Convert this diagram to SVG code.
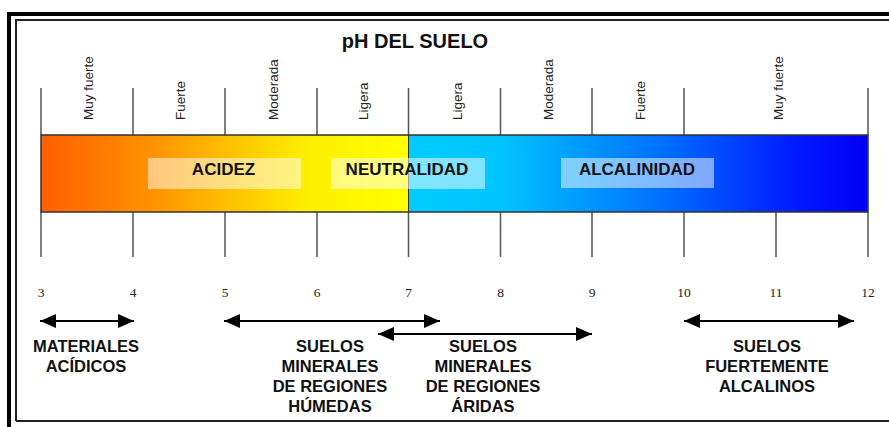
<svg xmlns="http://www.w3.org/2000/svg" width="889" height="427" viewBox="0 0 889 427">
<defs>
<linearGradient id="gAcid" x1="0" y1="0" x2="1" y2="0">
<stop offset="0" stop-color="#FF5F00"/>
<stop offset="0.3" stop-color="#FF9200"/>
<stop offset="0.72" stop-color="#FFEE00"/>
<stop offset="1" stop-color="#FFFF00"/>
</linearGradient>
<linearGradient id="gAlk" x1="0" y1="0" x2="1" y2="0">
<stop offset="0" stop-color="#00CCFF"/>
<stop offset="0.2" stop-color="#00C4FF"/>
<stop offset="0.55" stop-color="#0070FF"/>
<stop offset="0.85" stop-color="#0018FF"/>
<stop offset="1" stop-color="#0000F0"/>
</linearGradient>
<marker id="ah" viewBox="0 0 16 14" refX="16" refY="7" markerWidth="16" markerHeight="14" markerUnits="userSpaceOnUse" orient="auto-start-reverse">
<path d="M0,0 L16,7 L0,14 Z" fill="#000"/>
</marker>
<style>
.tick{stroke:#555;stroke-width:1.5;fill:none}
.deg{font-family:"Liberation Sans",Arial,sans-serif;font-size:13.5px;fill:#222}
.num{font-family:"Liberation Serif","Times New Roman",serif;font-size:13.5px;fill:#222;text-anchor:middle}
.box{fill:#fff;fill-opacity:0.5}
.zone{font-family:"Liberation Sans",Arial,sans-serif;font-size:17px;font-weight:bold;fill:#111;text-anchor:middle}
.lbl{font-family:"Liberation Sans",Arial,sans-serif;font-size:16.5px;font-weight:bold;fill:#111;text-anchor:middle}
.arr{stroke:#000;stroke-width:2;fill:none;marker-start:url(#ah);marker-end:url(#ah)}
</style>
</defs>
<rect width="889" height="427" fill="#fff"/>
<g id="frame">
<path d="M9,427 V14 H889" fill="none" stroke="#000" stroke-width="4"/>
<path d="M16,421 V20 H889 M16,421 H889" fill="none" stroke="#222" stroke-width="2"/>
</g>
<text x="415" y="48" font-family="'Liberation Sans',Arial,sans-serif" font-size="20" font-weight="bold" fill="#111" text-anchor="middle">pH DEL SUELO</text>
<g id="ticks">
<path class="tick" d="M41,88V135 M133,88V135 M225,88V135 M317,88V135 M408.5,88V135 M500.5,88V135 M592,88V135 M684,88V135 M868,88V135"/>
<path class="tick" d="M41,212V257 M133,212V257 M225,212V257 M317,212V257 M408.5,212V257 M500.5,212V257 M592,212V257 M684,212V257 M776,212V257 M868,212V257"/>
</g>
<g id="degrees">
<text class="deg" transform="translate(93,120) rotate(-90)">Muy fuerte</text>
<text class="deg" transform="translate(185,120) rotate(-90)">Fuerte</text>
<text class="deg" transform="translate(278,120) rotate(-90)">Moderada</text>
<text class="deg" transform="translate(368,120) rotate(-90)">Ligera</text>
<text class="deg" transform="translate(462,120) rotate(-90)">Ligera</text>
<text class="deg" transform="translate(553,120) rotate(-90)">Moderada</text>
<text class="deg" transform="translate(645,120) rotate(-90)">Fuerte</text>
<text class="deg" transform="translate(783,120) rotate(-90)">Muy fuerte</text>
</g>
<g id="bar">
<rect x="41" y="135" width="367.5" height="77" fill="url(#gAcid)"/>
<rect x="408.5" y="135" width="459.5" height="77" fill="url(#gAlk)"/>
<rect x="41" y="135" width="827" height="77" fill="none" stroke="#333" stroke-width="1.5"/>
<line x1="408.5" y1="135" x2="408.5" y2="212" stroke="#333" stroke-width="1"/>
</g>
<g id="acidez">
<rect class="box" x="148" y="158" width="153" height="31"/>
<text class="zone" x="223.5" y="174.5">ACIDEZ</text>
</g>
<g id="neutralidad">
<rect class="box" x="331" y="158" width="154" height="31"/>
<text class="zone" x="407" y="174.5">NEUTRALIDAD</text>
</g>
<g id="alcalinidad">
<rect class="box" x="561" y="158" width="153" height="30"/>
<text class="zone" x="637" y="174.5">ALCALINIDAD</text>
</g>
<g id="numbers">
<text class="num" x="41" y="297">3</text>
<text class="num" x="133" y="297">4</text>
<text class="num" x="225" y="297">5</text>
<text class="num" x="317" y="297">6</text>
<text class="num" x="408.5" y="297">7</text>
<text class="num" x="500.5" y="297">8</text>
<text class="num" x="592" y="297">9</text>
<text class="num" x="684" y="297">10</text>
<text class="num" x="776" y="297">11</text>
<text class="num" x="868" y="297">12</text>
</g>
<g id="connectors">
<line class="arr" x1="40" y1="321" x2="134" y2="321"/>
<line class="arr" x1="224" y1="321" x2="440" y2="321"/>
<line class="arr" x1="378" y1="334" x2="592" y2="334"/>
<line class="arr" x1="684" y1="321" x2="854" y2="321"/>
</g>
<g id="materiales">
<text class="lbl" x="86" y="352">MATERIALES</text>
<text class="lbl" x="86" y="372">ACÍDICOS</text>
</g>
<g id="humedas">
<text class="lbl" x="330" y="352">SUELOS</text>
<text class="lbl" x="330" y="372">MINERALES</text>
<text class="lbl" x="330" y="392">DE REGIONES</text>
<text class="lbl" x="330" y="412">HÚMEDAS</text>
</g>
<g id="aridas">
<text class="lbl" x="483" y="352">SUELOS</text>
<text class="lbl" x="483" y="372">MINERALES</text>
<text class="lbl" x="483" y="392">DE REGIONES</text>
<text class="lbl" x="483" y="412">ÁRIDAS</text>
</g>
<g id="alcalinos">
<text class="lbl" x="767" y="352">SUELOS</text>
<text class="lbl" x="767" y="372">FUERTEMENTE</text>
<text class="lbl" x="767" y="392">ALCALINOS</text>
</g>
</svg>
